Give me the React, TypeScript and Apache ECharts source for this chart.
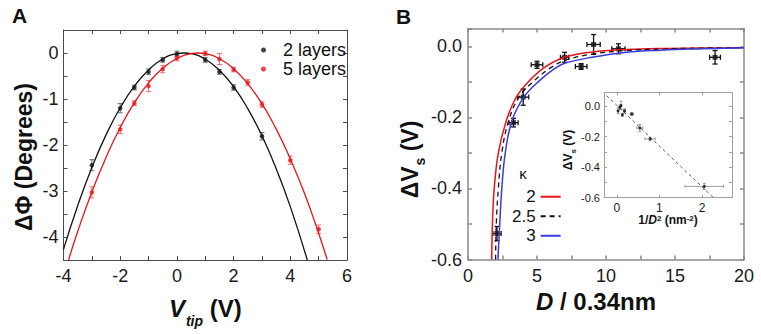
import React, { useEffect, useRef } from 'react';
import * as echarts from 'echarts';

const FONT = '"Liberation Sans", Arial, Helvetica, sans-serif';

// ---------- Panel A : phase shift vs tip voltage ----------
const vtip2 = [-3, -2, -1.5, -1, -0.5, 0, 1, 1.5, 2, 3];
const phase2 = [-2.44, -1.2, -0.75, -0.41, -0.15, -0.02, -0.15, -0.41, -0.75, -1.81];
const phase2Err = [0.12, 0.1, 0.05, 0.06, 0.05, 0.06, 0.05, 0.05, 0.06, 0.08];

const vtip5 = [-3, -2, -1.5, -1, -0.5, 0, 1, 1.5, 2, 2.5, 3, 4, 5];
const phase5 = [-3.03, -1.66, -1.09, -0.72, -0.35, -0.11, -0.01, -0.13, -0.36, -0.64, -1.12, -2.33, -3.83];
const phase5Err = [0.12, 0.09, 0.05, 0.12, 0.08, 0.06, 0.05, 0.12, 0.05, 0.06, 0.06, 0.09, 0.09];

const fit2X = [-4, -3.5, -3, -2.5, -2, -1.5, -1, -0.5, 0, 0.25, 0.5, 1, 1.5, 2, 2.5, 3, 3.5, 4, 4.6];
const fit2Y = [-4.27, -3.32, -2.49, -1.78, -1.19, -0.72, -0.37, -0.13, -0.014, 0, -0.016, -0.136, -0.374, -0.73, -1.21, -1.8, -2.51, -3.34, -4.5];

const fit5X = [-3.82, -3.5, -3, -2.5, -2, -1.5, -1, -0.5, 0, 0.5, 0.75, 1, 1.5, 2, 2.5, 3, 3.5, 4, 4.5, 5, 5.3];
const fit5Y = [-4.5, -3.88, -3.02, -2.27, -1.62, -1.08, -0.65, -0.33, -0.12, -0.012, 0, -0.015, -0.125, -0.34, -0.67, -1.1, -1.65, -2.3, -3.05, -3.92, -4.49];

// ---------- Panel B : surface potential shift vs thickness ----------
const thickD = [2.1, 3.3, 4.0, 5.0, 7.0, 8.2, 9.1, 10.9, 17.9];
const deltaVs = [-0.527, -0.215, -0.143, -0.052, -0.031, -0.057, 0.005, -0.007, -0.031];
const thickDErr = [0.3, 0.33, 0.4, 0.42, 0.3, 0.42, 0.48, 0.48, 0.39];
const deltaVsErr = [0.02, 0.012, 0.023, 0.01, 0.014, 0.008, 0.028, 0.014, 0.019];

const k2X = [1.72, 1.77, 1.9, 2.2, 2.78, 3.5, 4.47, 5.6, 7, 9, 11.5, 14, 17, 20];
const k2Y = [-0.6, -0.5, -0.4, -0.3, -0.209, -0.143, -0.096, -0.058, -0.031, -0.016, -0.009, -0.006, -0.005, -0.004];
const k25X = [2.0, 2.05, 2.2, 2.45, 2.95, 3.7, 4.83, 6, 7, 9, 11.5, 14, 17, 20];
const k25Y = [-0.6, -0.5, -0.4, -0.3, -0.209, -0.143, -0.096, -0.06, -0.04, -0.022, -0.012, -0.008, -0.005, -0.004];
const k3X = [2.17, 2.3, 2.45, 2.7, 3.19, 4.05, 5.2, 6.2, 7, 9, 11.5, 14, 17, 20];
const k3Y = [-0.6, -0.5, -0.4, -0.3, -0.209, -0.143, -0.096, -0.065, -0.048, -0.031, -0.017, -0.011, -0.007, -0.004];

// ---------- Inset : dVs vs 1/D^2 ----------
const invD2 = [2.05, 0.78, 0.54, 0.35, 0.18, 0.13, 0.1, 0.07, 0.03];
const insetVs = [-0.527, -0.215, -0.143, -0.052, -0.031, -0.057, 0.005, -0.007, -0.031];
const invD2Err = [0.45, 0.12, 0.07, 0.04, 0.02, 0.01, 0.01, 0.01, 0.005];
const insetVsErr = [0.02, 0.012, 0.023, 0.01, 0.014, 0.008, 0.028, 0.014, 0.019];
const insetLineX = [-0.24, 2.26];
const insetLineY = [0.07, -0.6];

const zip = (xs: number[], ys: number[]) => xs.map((x, i) => [x, ys[i]]);

function errRender(color: string, cap: number, lw: number) {
  return (_params: any, api: any) => {
    const x = api.value(0);
    const y = api.value(1);
    const ex = api.value(2);
    const ey = api.value(3);
    const style = { stroke: color, lineWidth: lw };
    const children: any[] = [];
    if (ey > 0) {
      const a = api.coord([x, y + ey]);
      const b = api.coord([x, y - ey]);
      children.push({ type: 'line', shape: { x1: a[0], y1: a[1], x2: b[0], y2: b[1] }, style });
      children.push({ type: 'line', shape: { x1: a[0] - cap, y1: a[1], x2: a[0] + cap, y2: a[1] }, style });
      children.push({ type: 'line', shape: { x1: b[0] - cap, y1: b[1], x2: b[0] + cap, y2: b[1] }, style });
    }
    if (ex > 0) {
      const a = api.coord([x - ex, y]);
      const b = api.coord([x + ex, y]);
      children.push({ type: 'line', shape: { x1: a[0], y1: a[1], x2: b[0], y2: b[1] }, style });
      children.push({ type: 'line', shape: { x1: a[0], y1: a[1] - cap, x2: a[0], y2: a[1] + cap }, style });
      children.push({ type: 'line', shape: { x1: b[0], y1: b[1] - cap, x2: b[0], y2: b[1] + cap }, style });
    }
    return { type: 'group', children };
  };
}

const near = (v: number, step: number) => Math.abs(v / step - Math.round(v / step)) < 1e-6;
const fmt1 = (v: number) => (Math.abs(v) < 1e-9 ? '0.0' : v.toFixed(1));

function boxAxes(opts: {
  grid: number; min: number; max: number; interval?: number; color: string; width: number;
  labelSize: number; labelMargin: number; formatter?: (v: number) => string; tickLen: number;
  customTicks?: number[]; customLabels?: number[];
}) {
  const base: any = {
    type: 'value', gridIndex: opts.grid, min: opts.min, max: opts.max,
    splitLine: { show: false },
    axisLine: { show: true, onZero: false, lineStyle: { color: opts.color, width: opts.width } },
    axisTick: { show: true, inside: true, length: opts.tickLen, lineStyle: { color: opts.color, width: opts.width } },
  };
  if (opts.interval !== undefined) base.interval = opts.interval;
  if (opts.customTicks) base.axisTick.customValues = opts.customTicks;
  const main = {
    ...base,
    axisLabel: {
      show: true, fontSize: opts.labelSize, color: '#1a1a1a', fontFamily: FONT, margin: opts.labelMargin,
      formatter: opts.formatter, hideOverlap: false,
      ...(opts.customLabels ? { customValues: opts.customLabels } : {}),
    },
  };
  const mirror = { ...base, axisLabel: { show: false } };
  return [main, mirror];
}

export default function App() {
  const ref = useRef<HTMLDivElement>(null);
  useEffect(() => {
    if (!ref.current) return;
    const chart = echarts.init(ref.current, undefined, { renderer: 'svg' });

    const [axA, axAtop] = boxAxes({ grid: 0, min: -4, max: 6, interval: 1, color: '#4a4a4a', width: 1, labelSize: 18, labelMargin: 7, tickLen: 4, formatter: (v) => (near(v, 2) ? String(v) : '') });
    const [ayA, ayAr] = boxAxes({ grid: 0, min: -4.5, max: 0.5, interval: 0.5, color: '#4a4a4a', width: 1, labelSize: 18, labelMargin: 5, tickLen: 4, formatter: (v) => (near(v, 1) ? String(Math.round(v)) : '') });
    const [axB, axBtop] = boxAxes({ grid: 1, min: 0, max: 20, interval: 2.5, color: '#8a8a8a', width: 1.5, labelSize: 18, labelMargin: 7, tickLen: 4, formatter: (v) => (near(v, 5) ? String(v) : '') });
    const [ayB, ayBr] = boxAxes({ grid: 1, min: -0.6, max: 0.05, interval: 0.1, color: '#8a8a8a', width: 1.5, labelSize: 18, labelMargin: 6, tickLen: 4, formatter: (v) => (near(v, 0.2) ? fmt1(v) : '') });
    const [axI, axItop] = boxAxes({ grid: 2, min: -0.3, max: 2.7, color: '#a0a0a0', width: 1, labelSize: 12, labelMargin: 4, tickLen: 3, customTicks: [0, 1, 2], customLabels: [0, 1, 2], formatter: (v) => String(v) });
    const [ayI, ayIr] = boxAxes({ grid: 2, min: -0.6, max: 0.09, interval: 0.1, color: '#a0a0a0', width: 1, labelSize: 11, labelMargin: 4, tickLen: 3, formatter: (v) => (near(v, 0.2) ? fmt1(v) : '') });

    const titleBold = { fontFamily: FONT, fontWeight: 'bold', color: '#111' };

    axA.name = '{v|V}{s|tip}{n| (V)}';
    axA.nameLocation = 'middle';
    axA.nameGap = 30;
    axA.nameTextStyle = {
      rich: {
        v: { ...titleBold, fontSize: 24, fontStyle: 'italic' },
        s: { ...titleBold, fontSize: 14, fontStyle: 'italic', lineHeight: 14, padding: [24, 0, 0, 1] },
        n: { ...titleBold, fontSize: 24 },
      },
    };
    ayA.name = 'ΔΦ (Degrees)';
    ayA.nameLocation = 'middle';
    ayA.nameGap = 28;
    ayA.nameTextStyle = { ...titleBold, fontSize: 23, padding: [0, 24, 0, 0] };

    axB.name = '{d|D}{n| / 0.34nm}';
    axB.nameLocation = 'middle';
    axB.nameGap = 30;
    axB.nameTextStyle = {
      padding: [0, 20, 0, 0],
      rich: {
        d: { ...titleBold, fontSize: 24, fontStyle: 'italic' },
        n: { ...titleBold, fontSize: 24 },
      },
    };
    ayB.name = '{a|ΔV}{s|s}{a| (V)}';
    ayB.nameLocation = 'middle';
    ayB.nameGap = 46;
    ayB.nameTextStyle = {
      padding: [0, 31, 0, 0],
      rich: {
        a: { ...titleBold, fontSize: 23 },
        s: { ...titleBold, fontSize: 14, lineHeight: 14, padding: [20, 0, 0, 1] },
      },
    };

    axI.name = '{a|1/}{d|D}{p|2}{a| (nm}{p|-2}{a|)}';
    axI.nameLocation = 'middle';
    axI.nameGap = 16;
    axI.nameTextStyle = {
      rich: {
        a: { ...titleBold, fontSize: 12 },
        d: { ...titleBold, fontSize: 12, fontStyle: 'italic' },
        p: { ...titleBold, fontSize: 8, lineHeight: 8, verticalAlign: 'top', padding: [0, 0, 10, 0] },
      },
    };
    ayI.name = '{a|ΔV}{s|s}{a| (V)}';
    ayI.nameLocation = 'middle';
    ayI.nameGap = 28;
    ayI.nameTextStyle = {
      padding: [0, 10, 0, 0],
      rich: {
        a: { ...titleBold, fontSize: 12 },
        s: { ...titleBold, fontSize: 8, lineHeight: 8, padding: [10, 0, 0, 0] },
      },
    };

    axAtop.position = 'top';
    axBtop.position = 'top';
    axItop.position = 'top';
    ayAr.position = 'right';
    ayBr.position = 'right';
    ayIr.position = 'right';

    const option: any = {
      animation: false,
      backgroundColor: '#ffffff',
      textStyle: { fontFamily: FONT },
      grid: [
        { left: 63.5, top: 30, width: 283.5, height: 230 },
        { left: 468, top: 28.5, width: 276, height: 231 },
        { left: 604, top: 92.5, width: 128, height: 105, show: true, backgroundColor: '#ffffff', borderWidth: 0, z: 5 },
      ],
      xAxis: [axA, axAtop, axB, axBtop, { ...axI, z: 6 }, { ...axItop, z: 6 }],
      yAxis: [ayA, ayAr, ayB, ayBr, { ...ayI, z: 6 }, { ...ayIr, z: 6 }],
      legend: [
        {
          data: ['2 layers', '5 layers'],
          orient: 'vertical', left: 256, top: 36, icon: 'circle', itemWidth: 5, itemHeight: 5, itemGap: 1,
          selectedMode: false,
          textStyle: { fontSize: 18, color: '#111', fontFamily: FONT, lineHeight: 18, padding: [0, 0, 0, 12] },
        },
        {
          data: ['2', '2.5', '3'],
          orient: 'vertical', align: 'right', left: 507, top: 182, itemWidth: 20, itemHeight: 10, itemGap: 0,
          selectedMode: false,
          itemStyle: { opacity: 0, color: 'transparent', borderColor: 'transparent', borderWidth: 0 },
          textStyle: { fontSize: 17, color: '#111', fontFamily: FONT, lineHeight: 19.5 },
        },
      ],
      graphic: [
        { type: 'text', left: 12, top: 5, style: { text: 'A', fontSize: 21, fontWeight: 'bold', fontFamily: FONT, fill: '#111' } },
        { type: 'text', left: 396, top: 6, style: { text: 'B', fontSize: 21, fontWeight: 'bold', fontFamily: FONT, fill: '#111' } },
        { type: 'text', x: 523, y: 173, style: { text: 'κ', fontSize: 15, fontFamily: FONT, fill: '#111', align: 'center', verticalAlign: 'middle' } },
      ],
      series: [
        // Panel A
        { name: 'fit 2 layers', type: 'line', xAxisIndex: 0, yAxisIndex: 0, data: zip(fit2X, fit2Y), symbol: 'none', smooth: true, lineStyle: { color: '#111', width: 1.3 }, silent: true },
        { name: 'fit 5 layers', type: 'line', xAxisIndex: 0, yAxisIndex: 0, data: zip(fit5X, fit5Y), symbol: 'none', smooth: true, lineStyle: { color: '#e8141c', width: 1.3 }, silent: true },
        { name: 'err 2 layers', type: 'custom', xAxisIndex: 0, yAxisIndex: 0, renderItem: errRender('#6a6a6a', 2.5, 1), data: vtip2.map((x, i) => [x, phase2[i], 0, phase2Err[i]]), encode: { x: 0, y: 1 }, silent: true },
        { name: 'err 5 layers', type: 'custom', xAxisIndex: 0, yAxisIndex: 0, renderItem: errRender('#f06a6a', 2.5, 1), data: vtip5.map((x, i) => [x, phase5[i], 0, phase5Err[i]]), encode: { x: 0, y: 1 }, silent: true },
        { name: '2 layers', type: 'scatter', xAxisIndex: 0, yAxisIndex: 0, data: zip(vtip2, phase2), symbolSize: 4.5, itemStyle: { color: '#111' } },
        { name: '5 layers', type: 'scatter', xAxisIndex: 0, yAxisIndex: 0, data: zip(vtip5, phase5), symbolSize: 4.5, itemStyle: { color: '#e8141c' } },
        // Panel B
        { name: '2', type: 'line', xAxisIndex: 2, yAxisIndex: 2, data: zip(k2X, k2Y), symbol: 'none', smooth: 0.4, lineStyle: { color: '#e8141c', width: 1.5 }, itemStyle: { color: '#e8141c' } },
        { name: '2.5', type: 'line', xAxisIndex: 2, yAxisIndex: 2, data: zip(k25X, k25Y), symbol: 'none', smooth: 0.4, lineStyle: { color: '#111', width: 1.3, type: [5, 4] }, itemStyle: { color: '#111' } },
        { name: '3', type: 'line', xAxisIndex: 2, yAxisIndex: 2, data: zip(k3X, k3Y), symbol: 'none', smooth: 0.4, lineStyle: { color: '#3a3ae0', width: 1.5 }, itemStyle: { color: '#3a3ae0' } },
        { name: 'err B', type: 'custom', xAxisIndex: 2, yAxisIndex: 2, renderItem: errRender('#111', 2.5, 1.3), data: thickD.map((x, i) => [x, deltaVs[i], thickDErr[i], deltaVsErr[i]]), encode: { x: 0, y: 1 }, silent: true },
        { name: 'data B', type: 'scatter', xAxisIndex: 2, yAxisIndex: 2, data: zip(thickD, deltaVs), symbol: 'rect', symbolSize: 5, itemStyle: { color: '#111' } },
        // Inset
        { name: 'inset fit', type: 'line', xAxisIndex: 4, yAxisIndex: 4, data: zip(insetLineX, insetLineY), symbol: 'none', lineStyle: { color: '#555', width: 1, type: [3, 3] }, z: 7, silent: true },
        { name: 'inset err', type: 'custom', xAxisIndex: 4, yAxisIndex: 4, renderItem: errRender('#888', 1.5, 0.8), data: invD2.map((x, i) => [x, insetVs[i], invD2Err[i], insetVsErr[i]]), encode: { x: 0, y: 1 }, z: 7, silent: true },
        { name: 'inset data', type: 'scatter', xAxisIndex: 4, yAxisIndex: 4, data: zip(invD2, insetVs), symbolSize: 3, itemStyle: { color: '#111' }, z: 8 },
      ],
    };
    chart.setOption(option);
    return () => chart.dispose();
  }, []);
  return <div ref={ref} style={{ position: 'fixed', left: 0, top: 0, width: 761, height: 334, background: '#fff' }} />;
}
